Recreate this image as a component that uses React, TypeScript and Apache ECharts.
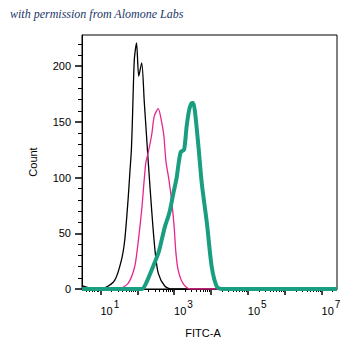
import React, { useEffect, useRef } from "react";
import * as echarts from "echarts";

// x values are log10(FITC-A); y values are counts
const blackX = [0.5, 0.6, 0.75, 0.9, 1.12, 1.39, 1.57, 1.66, 1.75, 1.8, 1.84, 1.87, 1.92, 1.98, 2.04, 2.12, 2.19, 2.25, 2.3, 2.39, 2.48, 2.57, 2.75, 2.93, 4.0, 7.42];
const blackY = [3, 2, 0.5, 0, 1, 8, 26, 44, 80, 105, 125, 154, 206, 221, 191, 203, 168, 138, 113, 71, 35, 14, 2.5, 0, 0, 0];

const magentaX = [0.5, 1.48, 1.75, 1.93, 2.02, 2.12, 2.23, 2.3, 2.39, 2.46, 2.57, 2.66, 2.72, 2.78, 2.85, 2.93, 3.0, 3.05, 3.11, 3.24, 3.43, 7.42];
const magentaY = [0, 0, 5, 20, 41, 71, 113, 123, 138, 155, 162, 150, 138, 114, 100, 80, 56, 32, 17, 5, 0, 0];

const tealX = [0.5, 2.12, 2.25, 2.39, 2.57, 2.62, 2.75, 2.84, 2.89, 2.98, 3.07, 3.11, 3.18, 3.27, 3.34, 3.41, 3.48, 3.52, 3.57, 3.66, 3.75, 3.89, 4.02, 4.16, 4.3, 7.42];
const tealY = [0, 0, 6, 17, 32, 38, 56, 65, 71, 86, 100, 110, 123, 125, 146, 161, 167, 167, 158, 128, 95, 59, 20, 2, 0, 0];

const xMajorTicks = [1, 2, 3, 4, 5, 6, 7];
const xLabelTicks = [1, 3, 5, 7];
const yMajorTicks = [0, 50, 100, 150, 200];
const yMinorTicks = [10, 20, 30, 40, 60, 70, 80, 90, 110, 120, 130, 140, 160, 170, 180, 190, 210, 220];

const X_MIN = 0.5;
const X_MAX = 7.42;
const Y_MAX = 228;

const xMinorTicks: number[] = [];
for (let d = 0; d <= 7; d++) {
  for (let k = 2; k <= 9; k++) {
    const v = d + Math.log10(k);
    if (v > X_MIN && v < X_MAX) xMinorTicks.push(v);
  }
}

const FONT = "Liberation Sans, Arial, sans-serif";

function pairs(xs: number[], ys: number[]) {
  return xs.map((x, i) => [x, ys[i]]);
}

export default function App() {
  const ref = useRef<HTMLDivElement>(null);
  useEffect(() => {
    if (!ref.current) return;
    const chart = echarts.init(ref.current, null, { renderer: "svg" });
    chart.setOption({
      animation: false,
      backgroundColor: "#ffffff",
      grid: {
        left: 82,
        top: 35,
        right: 21,
        bottom: 69,
        show: true,
        borderColor: "#000",
        borderWidth: 1,
        containLabel: false,
      },
      xAxis: [
        {
          type: "value",
          min: X_MIN,
          max: X_MAX,
          position: "bottom",
          axisLine: { show: true, lineStyle: { color: "#000", width: 1 } },
          axisTick: { show: true, customValues: xMajorTicks, length: 6, lineStyle: { color: "#000", width: 1.5 } },
          axisLabel: {
            show: true,
            customValues: xLabelTicks,
            align: "left",
            margin: 9,
            formatter: (v: number) => `{b|10}{s|${Math.round(v)}}`,
            rich: {
              b: { fontSize: 11, fontFamily: FONT, color: "#000", padding: [7, 0, 0, 0] },
              s: { fontSize: 10, fontFamily: FONT, color: "#000", padding: [0, 0, 5, 1] },
            },
          },
          splitLine: { show: false },
        },
        {
          type: "value",
          min: X_MIN,
          max: X_MAX,
          position: "bottom",
          axisLine: { show: false },
          axisTick: { show: true, customValues: xMinorTicks, length: 3, lineStyle: { color: "#000", width: 1 } },
          axisLabel: { show: false },
          splitLine: { show: false },
        },
      ],
      yAxis: [
        {
          type: "value",
          min: 0,
          max: Y_MAX,
          position: "left",
          axisLine: { show: true, lineStyle: { color: "#000", width: 1 } },
          axisTick: { show: true, customValues: yMajorTicks, length: 7, lineStyle: { color: "#000", width: 1.5 } },
          axisLabel: {
            show: true,
            customValues: yMajorTicks,
            margin: 11,
            fontSize: 11,
            fontFamily: FONT,
            color: "#000",
          },
          splitLine: { show: false },
        },
        {
          type: "value",
          min: 0,
          max: Y_MAX,
          position: "left",
          axisLine: { show: false },
          axisTick: { show: true, customValues: yMinorTicks, length: 4, lineStyle: { color: "#000", width: 1 } },
          axisLabel: { show: false },
          splitLine: { show: false },
        },
      ],
      series: [
        {
          type: "line",
          xAxisIndex: 0,
          yAxisIndex: 0,
          data: pairs(blackX, blackY),
          showSymbol: false,
          smooth: 0.25,
          lineStyle: { color: "#000000", width: 1.3 },
        },
        {
          type: "line",
          xAxisIndex: 0,
          yAxisIndex: 0,
          data: pairs(magentaX, magentaY),
          showSymbol: false,
          smooth: 0.25,
          lineStyle: { color: "#e8258f", width: 1.3 },
        },
        {
          type: "line",
          xAxisIndex: 0,
          yAxisIndex: 0,
          data: pairs(tealX, tealY),
          showSymbol: false,
          smooth: 0.25,
          lineStyle: { color: "#1a9e80", width: 4 },
        },
      ],
      graphic: [
        {
          type: "text",
          left: 10,
          top: 8,
          style: {
            text: "with permission from Alomone Labs",
            font: "italic 12px 'Liberation Serif', 'DejaVu Serif', serif",
            fill: "#1b3668",
          },
        },
        {
          type: "text",
          x: 203,
          y: 333,
          style: {
            text: "FITC-A",
            font: `11px ${FONT}`,
            fill: "#000",
            align: "center",
            verticalAlign: "middle",
          },
        },
        {
          type: "text",
          x: 33,
          y: 162,
          rotation: Math.PI / 2,
          style: {
            text: "Count",
            font: `11px ${FONT}`,
            fill: "#000",
            align: "center",
            verticalAlign: "middle",
          },
        },
      ],
    });
    return () => chart.dispose();
  }, []);
  return (
    <div
      ref={ref}
      style={{ position: "fixed", left: 0, top: 0, width: 358, height: 358, background: "#fff" }}
    />
  );
}
